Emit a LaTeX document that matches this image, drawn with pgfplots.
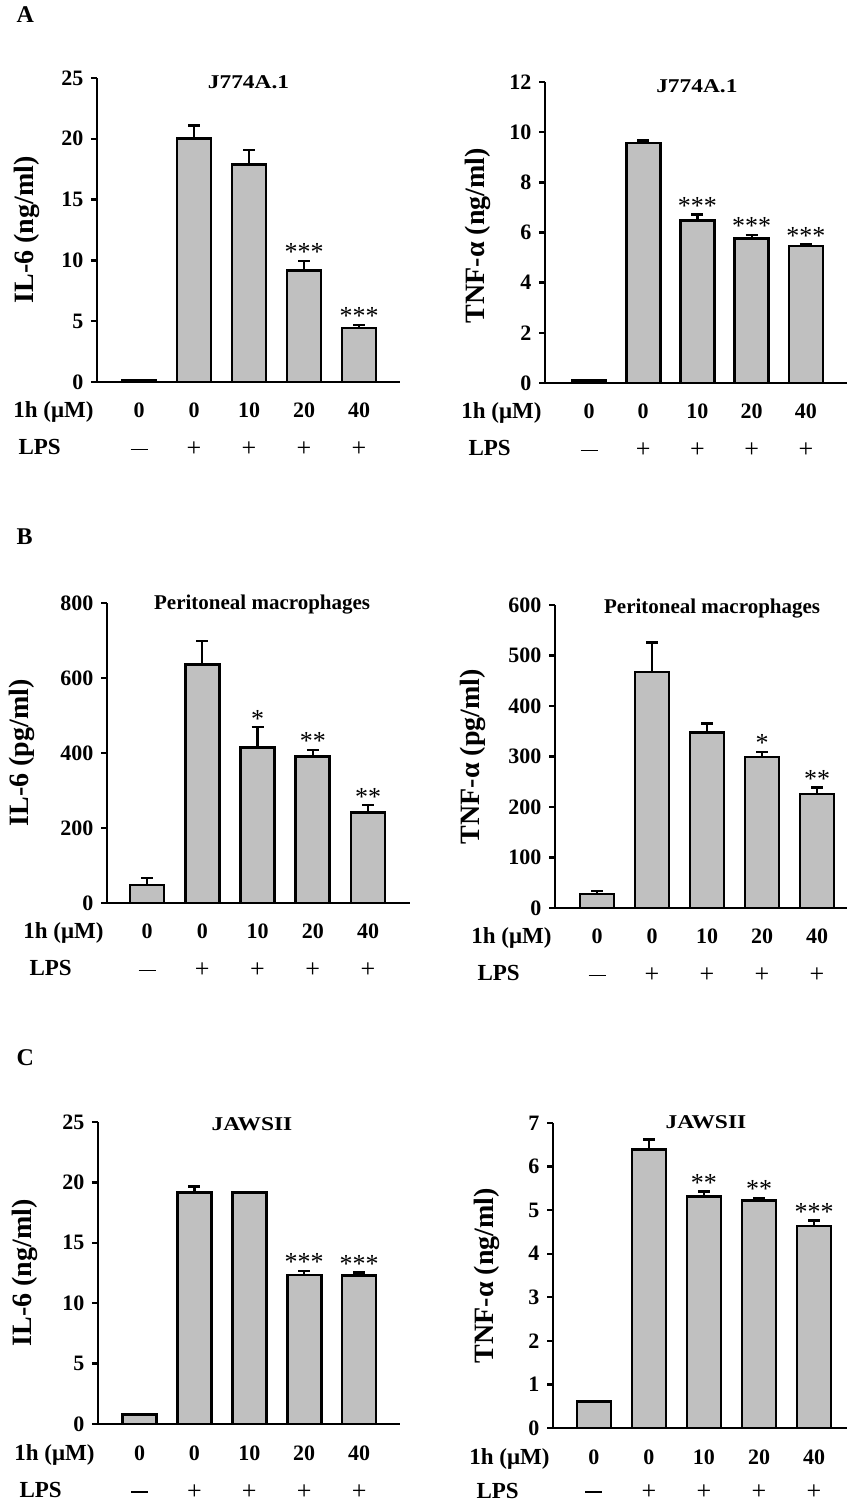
\documentclass[border=0pt]{standalone}
\usepackage{fontspec}
\setmainfont{Liberation Serif}
\newfontfamily\widefont[FakeStretch=1.2]{Liberation Serif}
\usepackage{pgfplots}
\pgfplotsset{compat=1.18}
\definecolor{barfill}{RGB}{192,192,192}

\newcommand{\tickfont}{\fontsize{22}{26}\selectfont\bfseries}
\newcommand{\ylabfont}{\fontsize{28}{32}\selectfont\bfseries}
\newcommand{\rowfont}{\fontsize{23}{27}\selectfont\bfseries}
\newcommand{\starfont}{\fontsize{26}{30}\selectfont\mdseries}
\newcommand{\titleA}{\widefont\fontsize{19.5}{23}\selectfont\bfseries}
\newcommand{\titleB}{\fontsize{21}{25}\selectfont\bfseries}
\newcommand{\minussign}{\rule[6.5pt]{17pt}{1.1pt}}

\pgfplotsset{
  panel/.style={
    scale only axis, anchor=south west, clip=false,
    axis x line=bottom, axis y line=left,
    axis line style={-, line width=2.6pt, black},
    ymin=0,
    xtick={0,1,2,3,4},
    xticklabels={0,0,10,20,40},
    major tick length=6pt, tick align=outside,
    xtick style={draw=none},
    ytick style={line width=2.4pt, black},
    /pgf/number format/assume math mode=true,
    yticklabel style={font=\tickfont, xshift=-4pt},
    xticklabel style={font=\tickfont, anchor=base, yshift=-30pt},
    extra x ticks={0,1,2,3,4},
    extra x tick labels={\minussign,+,+,+,+},
    extra x tick style={major tick length=0pt, xticklabel style={font=\fontsize{26}{26}\selectfont\mdseries, yshift=-45pt}},
    ylabel style={font=\ylabfont, anchor=center},
  },
  bars/.style={ybar, bar shift=0pt, bar width=34pt, fill=barfill, draw=black, line width=2.6pt,
    error bars/y dir=plus, error bars/y explicit, error bars/error mark=|,
    error bars/error bar style={line width=2.4pt, black},
    error bars/error mark options={line width=2.4pt, mark size=6pt, black}},
  stars/.style={only marks, mark=*, mark size=0pt, mark options={draw=none, fill=none},
    nodes near coords, point meta=explicit symbolic,
    every node near coord/.style={anchor=base, inner sep=0pt, font=\starfont, black}},
}

\begin{document}
\begin{tikzpicture}
\useasboundingbox (0,0) rectangle (847pt,1505pt);

\node[anchor=base west, font=\fontsize{24}{28}\selectfont\bfseries] at (13pt,1482pt) {A};
\node[anchor=base west, font=\fontsize{24}{28}\selectfont\bfseries] at (13pt,960pt) {B};
\node[anchor=base west, font=\fontsize{24}{28}\selectfont\bfseries] at (13pt,439pt) {C};

% ---------- A left ----------
\begin{axis}[panel, at={(97pt,1123pt)}, width=303pt, height=304pt,
  xmin=-0.764, xmax=4.745, ymax=25, ytick={0,5,10,15,20,25},
  ylabel={IL-6 (ng/ml)}, ylabel style={at={(rel axis cs:-0.231,0.5)}}]
\addplot[bars] table[x=x, y=y, y error=e] {
x y e
0 0.1 0
1 20.0 1.1
2 17.9 1.2
3 9.15 0.8
4 4.45 0.25
};
\addplot[stars] table[x=x, y=y, meta=s] {
x y s
3 9.95 ***
4 4.70 ***
};
\node[anchor=base, font=\titleA] at (rel axis cs:0.5,1) [yshift=-11pt] {J774A.1};
\node[anchor=base east, font=\rowfont] at (rel axis cs:0,0) [yshift=-36pt] {1h (μM)};
\node[anchor=base west, font=\rowfont] at (rel axis cs:0,0) [xshift=-82pt, yshift=-73pt] {LPS};
\end{axis}

% ---------- A right ----------
\begin{axis}[panel, at={(545pt,1122pt)}, width=302pt, height=301pt,
  xmin=-0.811, xmax=4.756, ymax=12, ytick={0,2,4,6,8,10,12},
  ylabel={TNF-α (ng/ml)}, ylabel style={at={(rel axis cs:-0.222,0.49)}}]
\addplot[bars] table[x=x, y=y, y error=e] {
x y e
0 0.1 0
1 9.56 0.1
2 6.47 0.25
3 5.77 0.13
4 5.46 0.07
};
\addplot[stars] table[x=x, y=y, meta=s] {
x y s
2 6.72 ***
3 5.90 ***
4 5.53 ***
};
\node[anchor=base, font=\titleA] at (rel axis cs:0.503,1) [yshift=-11pt] {J774A.1};
\node[anchor=base east, font=\rowfont] at (rel axis cs:0,0) [yshift=-36pt] {1h (μM)};
\node[anchor=base west, font=\rowfont] at (rel axis cs:0,0) [xshift=-80pt, yshift=-73pt] {LPS};
\end{axis}

% ---------- B left ----------
\begin{axis}[panel, at={(107pt,602pt)}, width=303pt, height=300pt,
  xmin=-0.724, xmax=4.76, ymax=800, ytick={0,200,400,600,800},
  ylabel={IL-6 (pg/ml)}, ylabel style={at={(rel axis cs:-0.281,0.5)}}]
\addplot[bars] table[x=x, y=y, y error=e] {
x y e
0 48 18
1 636 63
2 414 55
3 390 18
4 242 19
};
\addplot[stars] table[x=x, y=y, meta=s] {
x y s
2 469 *
3 408 **
4 261 **
};
\node[anchor=base, font=\titleB] at (rel axis cs:0.512,1) [yshift=-7pt] {Peritoneal macrophages};
\node[anchor=base east, font=\rowfont] at (rel axis cs:0,0) [yshift=-36pt] {1h (μM)};
\node[anchor=base west, font=\rowfont] at (rel axis cs:0,0) [xshift=-81pt, yshift=-73pt] {LPS};
\end{axis}

% ---------- B right ----------
\begin{axis}[panel, at={(555pt,597pt)}, width=292pt, height=303pt,
  xmin=-0.764, xmax=4.545, ymax=600, ytick={0,100,200,300,400,500,600},
  ylabel={TNF-α (pg/ml)}, ylabel style={at={(rel axis cs:-0.281,0.5)}}]
\addplot[bars] table[x=x, y=y, y error=e] {
x y e
0 28 6
1 467 59
2 348 17
3 299 10
4 226 13
};
\addplot[stars] table[x=x, y=y, meta=s] {
x y s
3 309 *
4 239 **
};
\node[anchor=base, font=\titleB] at (rel axis cs:0.538,1) [yshift=-9pt] {Peritoneal macrophages};
\node[anchor=base east, font=\rowfont] at (rel axis cs:0,0) [yshift=-36pt] {1h (μM)};
\node[anchor=base west, font=\rowfont] at (rel axis cs:0,0) [xshift=-81pt, yshift=-73pt] {LPS};
\end{axis}

% ---------- C left ----------
\begin{axis}[panel, at={(98pt,81pt)}, width=302pt, height=302pt,
  xmin=-0.756, xmax=4.745, ymax=25, ytick={0,5,10,15,20,25},
  ylabel={IL-6 (ng/ml)}, ylabel style={at={(rel axis cs:-0.242,0.5)}}]
\addplot[bars] table[x=x, y=y, y error=e] {
x y e
0 0.8 0.03
1 19.15 0.5
2 19.15 0.05
3 12.33 0.34
4 12.28 0.25
};
\addplot[stars] table[x=x, y=y, meta=s] {
x y s
3 12.67 ***
4 12.53 ***
};
\node[anchor=base, font=\titleA] at (rel axis cs:0.51,1) [yshift=-9pt] {JAWSII};
\node[anchor=base east, font=\rowfont] at (rel axis cs:0,0) [yshift=-36pt] {1h (μM)};
\node[anchor=base west, font=\rowfont] at (rel axis cs:0,0) [xshift=-82pt, yshift=-73pt] {LPS};
\end{axis}

% ---------- C right ----------
\begin{axis}[panel, at={(553pt,77pt)}, width=294pt, height=305pt,
  xmin=-0.745, xmax=4.6, ymax=7, ytick={0,1,2,3,4,5,6,7},
  extra x tick style={xticklabel style={yshift=4pt}},
  ylabel={TNF-α (ng/ml)}, ylabel style={at={(rel axis cs:-0.224,0.5)}}]
\addplot[bars] table[x=x, y=y, y error=e] {
x y e
0 0.61 0.01
1 6.39 0.23
2 5.32 0.11
3 5.22 0.06
4 4.64 0.12
};
\addplot[stars] table[x=x, y=y, meta=s] {
x y s
2 5.43 **
3 5.28 **
4 4.76 ***
};
\node[anchor=base, font=\titleA] at (rel axis cs:0.52,1) [yshift=-5pt] {JAWSII};
\node[anchor=base east, font=\rowfont] at (rel axis cs:0,0) [yshift=-36pt] {1h (μM)};
\node[anchor=base west, font=\rowfont] at (rel axis cs:0,0) [xshift=-80pt, yshift=-70pt] {LPS};
\end{axis}
\end{tikzpicture}
\end{document}
